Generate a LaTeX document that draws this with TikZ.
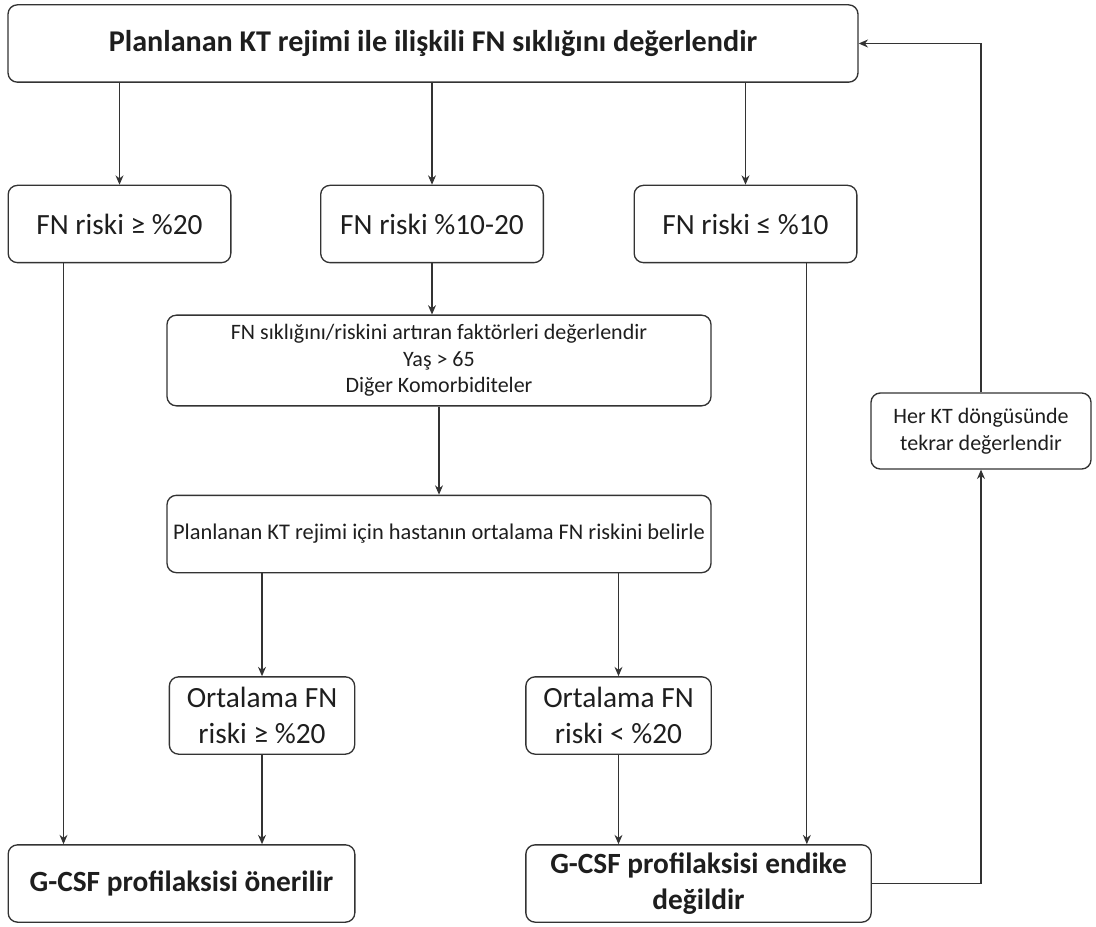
\documentclass[tikz,border=0pt]{standalone}
\usepackage{fontspec}
\setmainfont{Carlito}
\usepackage{tikz}
\usetikzlibrary{arrows.meta,positioning}
\definecolor{fnline}{RGB}{51,51,51}
\definecolor{fntext}{RGB}{30,30,30}
\tikzset{
  box/.style={rectangle, rounded corners=7pt, draw=fnline, line width=1pt, align=center, text=fntext, inner sep=2pt, minimum height=58pt, font=\fontsize{22}{27}\selectfont},
  bigbox/.style={box, font=\bfseries\fontsize{22}{27}\selectfont},
  smallbox/.style={box, font=\fontsize{16.5}{20}\selectfont},
  arrow/.style={-{Stealth[length=7pt,width=6pt]}, line width=0.8pt, draw=fnline},
  line/.style={line width=0.8pt, draw=fnline}
}
\begin{document}
\begin{tikzpicture}[x=0.75pt,y=-0.75pt]
\useasboundingbox (0,0) rectangle (1096,927);
\node[bigbox, minimum width=637.5pt, font=\bfseries\fontsize{22.6}{27}\selectfont] (top) at (433,43.5) {Planlanan KT rejimi ile ilişkili FN sıklığını değerlendir};
\node[box, minimum width=167pt] (fnA) at (119.5,224) {FN riski ≥ \%20};
\node[box, minimum width=167pt] (fnB) at (432,224) {FN riski \%10-20};
\node[box, minimum width=167pt] (fnC) at (745.5,224) {FN riski ≤ \%10};
\node[smallbox, minimum width=408pt, minimum height=68pt] (fac) at (439,360.5) {FN sıklığını/riskini artıran faktörleri değerlendir\\Yaş > 65\\Diğer Komorbiditeler};
\node[smallbox, minimum width=408pt, font=\fontsize{16.8}{20}\selectfont] (plan) at (439,534) {Planlanan KT rejimi için hastanın ortalama FN riskini belirle};
\node[box, minimum width=139pt] (ortA) at (262,715.5) {Ortalama FN\\riski ≥ \%20};
\node[box, minimum width=139pt] (ortB) at (618.5,715.5) {Ortalama FN\\riski < \%20};
\node[bigbox, minimum width=260pt] (gA) at (181.5,883.5) {G-CSF profilaksisi önerilir};
\node[bigbox, minimum width=259pt] (gB) at (698.5,883.5) {G-CSF profilaksisi endike\\değildir};
\node[smallbox, minimum width=165pt, minimum height=57pt] (her) at (981,431) {Her KT döngüsünde\\tekrar değerlendir};
% connectors
\draw[arrow] (top.south -| fnA) -- (fnA);\draw[arrow] (top.south -| fnB) -- (fnB);\draw[arrow] (top.south -| fnC) -- (fnC);
\draw[arrow] (fnB.south) -- (fnB.south |- fac.north);\draw[arrow] (fac) -- (plan);
\draw[arrow] (plan.south -| ortA) -- (ortA);\draw[arrow] (plan.south -| ortB) -- (ortB);
\draw[arrow] ([xshift=-42pt]fnA.south) -- ([xshift=-42pt]fnA.south |- gA.north);\draw[arrow] (ortA) -- (ortA |- gA.north);
\draw[arrow] (ortB) -- (ortB |- gB.north);\draw[arrow] ([xshift=46pt]fnC.south) -- ([xshift=46pt]fnC.south |- gB.north);
\draw[arrow] (gB.east) -| (her.south);\draw[arrow] (her.north) |- (top.east);
\end{tikzpicture}
\end{document}
